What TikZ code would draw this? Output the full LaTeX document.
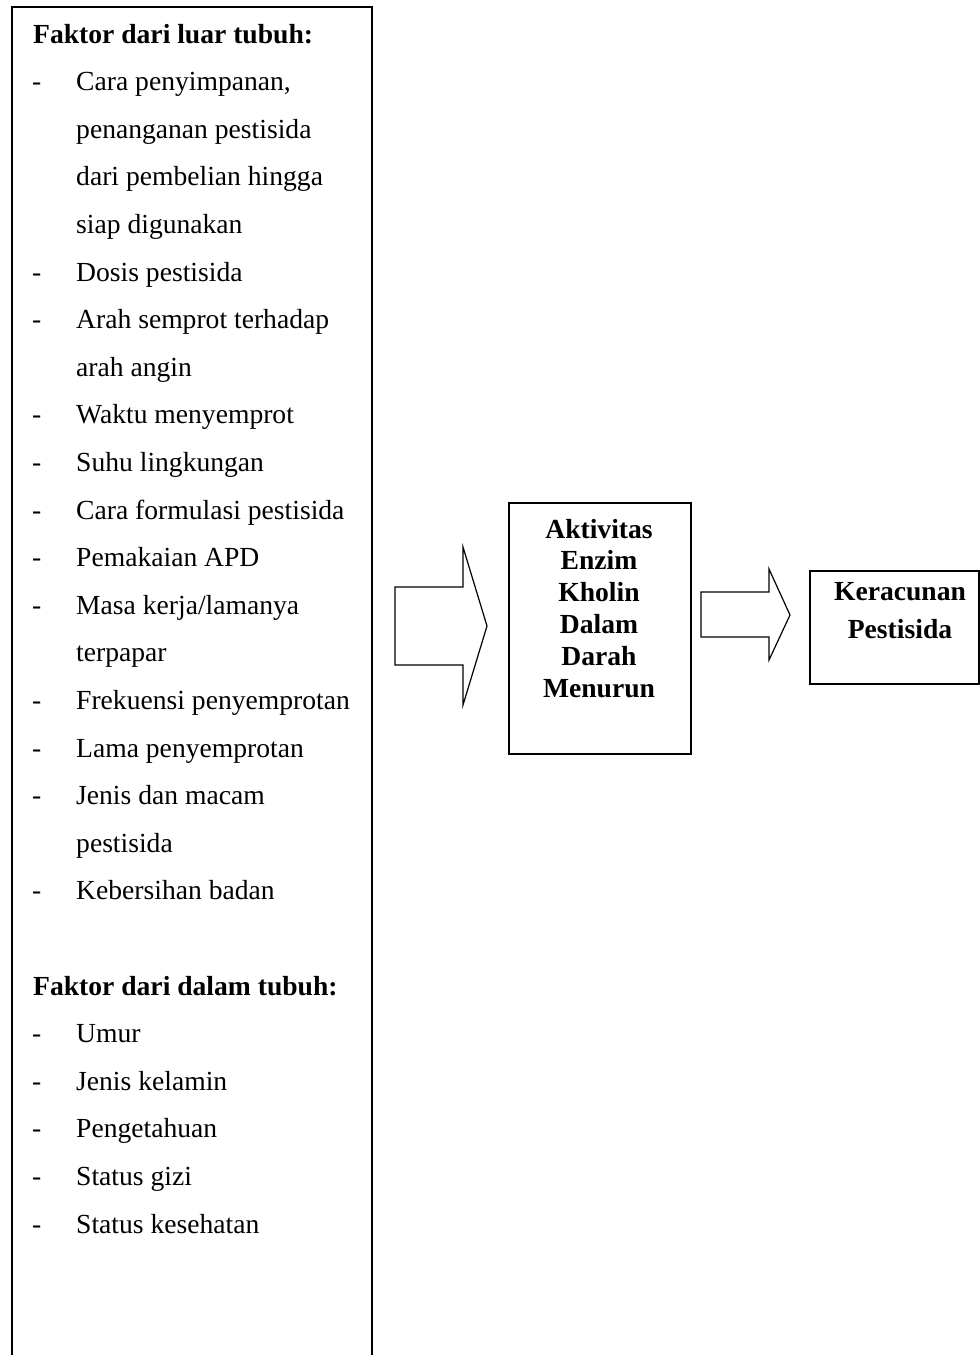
\documentclass[tikz,border=0pt]{standalone}
\usepackage{fontspec}
\setmainfont{Liberation Serif}
\begin{document}
\begin{tikzpicture}[x=1pt,y=-1pt,
  boxline/.style={draw=black,line width=2pt},
  arrowline/.style={draw=black,line width=1.2pt,line join=miter},
  txt/.style={anchor=base west,inner sep=0pt,font=\fontsize{27.6}{33}\selectfont},
  ttl/.style={txt,font=\fontsize{27.6}{33}\selectfont\bfseries}]
\useasboundingbox (0,0) rectangle (980,1355);
% left box (open at bottom)
\draw[boxline] (12,1370) -- (12,7) -- (372,7) -- (372,1370);
% titles
\node[ttl] (h1) at (33,43) {Faktor dari luar tubuh:};
\node[ttl] (h2) at (33,{43+20*47.6}) {Faktor dari dalam tubuh:};
% items with dash
\foreach \i/\t in {1/{Cara penyimpanan,},5/{Dosis pestisida},6/{Arah semprot terhadap},
  8/{Waktu menyemprot},9/{Suhu lingkungan},10/{Cara formulasi pestisida},11/{Pemakaian APD},
  12/{Masa kerja/lamanya},14/{Frekuensi penyemprotan},15/{Lama penyemprotan},
  16/{Jenis dan macam},18/{Kebersihan badan},21/{Umur},22/{Jenis kelamin},
  23/{Pengetahuan},24/{Status gizi},25/{Status kesehatan}}{
  \node[txt] (d\i) at (32,{43+\i*47.6}) {-};
  \node[txt] (t\i) at (76,{43+\i*47.6}) {\t};
}
% continuation lines
\foreach \i/\t in {2/{penanganan pestisida},3/{dari pembelian hingga},4/{siap digunakan},
  7/{arah angin},13/{terpapar},17/{pestisida}}{
  \node[txt] (t\i) at (76,{43+\i*47.6}) {\t};
}
% middle box
\node[boxline,anchor=north west,inner sep=0pt,minimum width=182pt,minimum height=251pt] (enz) at (508,502) {};
\node[anchor=base,inner sep=0pt,align=center,font=\fontsize{27.6}{31.8}\selectfont\bfseries] (enzt) at (599,697)
  {Aktivitas\\Enzim\\Kholin\\Dalam\\Darah\\Menurun};
% right box
\node[boxline,anchor=north west,inner sep=0pt,minimum width=169pt,minimum height=113pt] (rac) at (809,570) {};
\node[anchor=base,inner sep=0pt,align=center,font=\fontsize{27.6}{38}\selectfont\bfseries] (ract) at (900,638)
  {Keracunan\\Pestisida};
% block arrows
\draw[arrowline] (395,587) -- (463,587) -- (463,547) -- (487,626) coordinate (a1tip) -- (463,705) -- (463,665) -- (395,665) -- cycle;
\draw[arrowline] (701,592) -- (769,592) -- (769,569) -- (790,615) coordinate (a2tip) -- (769,660) -- (769,637) -- (701,637) -- cycle;
\end{tikzpicture}
\end{document}
